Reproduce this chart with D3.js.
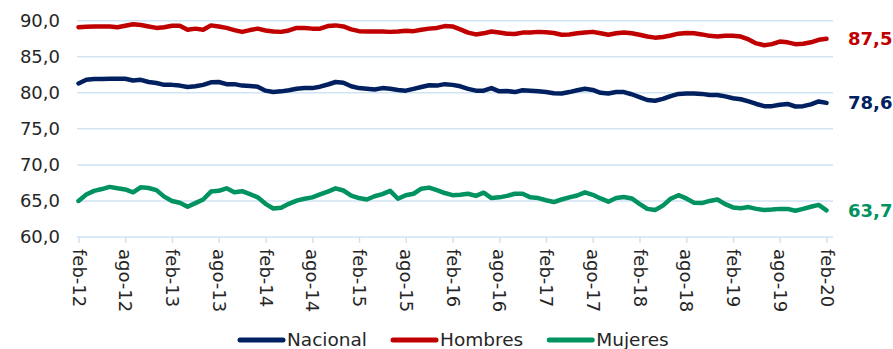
<!DOCTYPE html>
<html>
<head>
<meta charset="utf-8">
<script src="https://cdn.jsdelivr.net/npm/d3@7/dist/d3.min.js"></script>
<style>
  html, body { margin: 0; padding: 0; background: #ffffff; }
  svg { display: block; font-family: "DejaVu Sans", Verdana, sans-serif; }
</style>
</head>
<body>
<svg id="chart" width="893" height="349"></svg>
<script>
// Monthly series, feb-12 .. feb-20 (97 months)
const nacional = [
  81.3, 81.8, 81.9, 81.9, 81.95, 81.95, 81.95, 81.7, 81.8, 81.5,
  81.35, 81.1, 81.1, 81.0, 80.8, 80.9, 81.1, 81.45, 81.5, 81.2,
  81.2, 81.0, 80.95, 80.85, 80.3, 80.1, 80.2, 80.35, 80.55, 80.65,
  80.65, 80.85, 81.15, 81.5, 81.4, 80.9, 80.65, 80.55, 80.45, 80.65,
  80.55, 80.4, 80.3, 80.55, 80.8, 81.05, 81.0, 81.2, 81.1, 80.9,
  80.55, 80.3, 80.3, 80.65, 80.2, 80.25, 80.1, 80.35, 80.3, 80.2,
  80.1, 79.95, 79.9, 80.1, 80.35, 80.55, 80.4, 80.0, 79.9, 80.1,
  80.1, 79.8, 79.4, 79.0, 78.9, 79.15, 79.55, 79.85, 79.9, 79.9,
  79.85, 79.7, 79.7, 79.5, 79.25, 79.1, 78.8, 78.45, 78.15, 78.15,
  78.35, 78.45, 78.1, 78.15, 78.4, 78.8, 78.6
];
const hombres = [
  89.1, 89.15, 89.2, 89.2, 89.2, 89.1, 89.3, 89.5, 89.4, 89.2,
  89.0, 89.1, 89.3, 89.3, 88.75, 88.9, 88.75, 89.35, 89.2, 89.0,
  88.7, 88.45, 88.7, 88.9, 88.65, 88.5, 88.45, 88.65, 89.0, 89.0,
  88.9, 88.9, 89.25, 89.35, 89.2, 88.8, 88.55, 88.5, 88.5, 88.5,
  88.45, 88.5, 88.6, 88.55, 88.75, 88.9, 89.0, 89.25, 89.2, 88.8,
  88.35, 88.1, 88.25, 88.5, 88.35, 88.2, 88.15, 88.35, 88.35, 88.45,
  88.4, 88.3, 88.05, 88.1, 88.25, 88.35, 88.45, 88.25, 88.05, 88.25,
  88.35, 88.25, 88.05, 87.8, 87.65, 87.75, 87.95, 88.2, 88.3, 88.25,
  88.1, 87.9, 87.8, 87.9, 87.9, 87.8, 87.4, 86.85, 86.6, 86.75,
  87.1, 87.0, 86.75, 86.8, 87.0, 87.35, 87.5
];
const mujeres = [
  65.0, 65.9, 66.4, 66.65, 66.95, 66.75, 66.6, 66.2, 66.9, 66.8,
  66.5, 65.6, 65.0, 64.75, 64.2, 64.7, 65.2, 66.3, 66.4, 66.75,
  66.2, 66.35, 65.95, 65.5, 64.6, 63.95, 64.05, 64.6, 65.05, 65.3,
  65.5, 65.9, 66.3, 66.75, 66.45, 65.75, 65.4, 65.2, 65.65, 65.95,
  66.4, 65.3, 65.8, 66.0, 66.7, 66.85, 66.5, 66.1, 65.8, 65.85,
  66.0, 65.7, 66.15, 65.4, 65.5, 65.7, 66.0, 66.0, 65.5, 65.4,
  65.1, 64.85, 65.2, 65.5, 65.75, 66.2, 65.85, 65.35, 64.9, 65.4,
  65.55, 65.35, 64.6, 63.9, 63.75, 64.35, 65.3, 65.8, 65.35, 64.75,
  64.7, 65.0, 65.2, 64.55, 64.1, 64.0, 64.15, 63.9, 63.75, 63.8,
  63.9, 63.9, 63.65, 63.9, 64.2, 64.45, 63.7
];

// Axis labels
const tickLabels = [
  "feb-12", "ago-12", "feb-13", "ago-13", "feb-14", "ago-14", "feb-15", "ago-15",
  "feb-16", "ago-16", "feb-17", "ago-17", "feb-18", "ago-18", "feb-19", "ago-19", "feb-20"
];
const yTicks = [60, 65, 70, 75, 80, 85, 90];
const seriesNames = ["Nacional", "Hombres", "Mujeres"];

const series = [
  { name: seriesNames[0], values: nacional, color: "#002060" },
  { name: seriesNames[1], values: hombres,  color: "#C00000" },
  { name: seriesNames[2], values: mujeres,  color: "#00935F" }
];

const svg = d3.select("#chart");
const plotLeft = 77, plotRight = 833, plotTop = 20.7, plotBottom = 237;
const gridColor = "#D0E3F5";
const textColor = "#262626";

const x = d3.scaleLinear().domain([0, nacional.length - 1]).range([78.5, 826.5]);
const y = d3.scaleLinear().domain([60, 90]).range([plotBottom, plotTop]);
const fmt = v => d3.format(".1f")(v).replace(".", ",");

// Horizontal gridlines (60 acts as the axis line)
svg.append("g").selectAll("line")
  .data(yTicks).join("line")
  .attr("x1", plotLeft).attr("x2", plotRight)
  .attr("y1", d => y(d)).attr("y2", d => y(d))
  .attr("stroke", gridColor).attr("stroke-width", 1.5);

// Y axis labels
const yAxis = d3.axisLeft(y).tickValues(yTicks).tickFormat(fmt).tickSize(0).tickPadding(0);
svg.append("g")
  .attr("transform", `translate(60,0)`)
  .call(yAxis)
  .call(g => g.select(".domain").remove())
  .call(g => g.selectAll("text")
    .attr("font-size", 18).attr("fill", textColor)
    .attr("font-family", "DejaVu Sans, Verdana, sans-serif"));

// X axis: ticks every 6 months, labels rotated
const tickIdx = tickLabels.map((_, i) => i * 6);
const xAxis = d3.axisBottom(x).tickValues(tickIdx)
  .tickFormat((d, i) => tickLabels[i]).tickSize(6).tickPadding(0);
svg.append("g")
  .attr("transform", `translate(0,${plotBottom})`)
  .call(xAxis)
  .call(g => g.select(".domain").remove())
  .call(g => g.selectAll(".tick line").attr("stroke", gridColor).attr("stroke-width", 1.5))
  .call(g => g.selectAll("text")
    .attr("font-size", 18).attr("fill", textColor)
    .attr("font-family", "DejaVu Sans, Verdana, sans-serif")
    .attr("text-anchor", "start")
    .attr("transform", "translate(0,12) rotate(90)")
    .attr("x", 0).attr("y", 0).attr("dy", "0.35em"));

// Series lines
const line = d3.line().x((d, i) => x(i)).y(d => y(d)).curve(d3.curveLinear);
svg.append("g").selectAll("path")
  .data(series).join("path")
  .attr("d", d => line(d.values))
  .attr("fill", "none")
  .attr("stroke", d => d.color)
  .attr("stroke-width", 4.5)
  .attr("stroke-linejoin", "round")
  .attr("stroke-linecap", "round");

// Last-value labels
svg.append("g").selectAll("text")
  .data(series).join("text")
  .attr("x", 848)
  .attr("y", d => y(d.values[d.values.length - 1]))
  .attr("dy", "0.35em")
  .attr("font-size", 18).attr("font-weight", "bold")
  .attr("fill", d => d.color)
  .text(d => fmt(d.values[d.values.length - 1]));

// Legend
const legend = svg.append("g").attr("transform", "translate(240,340)");
let cursor = 0;
series.forEach(s => {
  const item = legend.append("g").attr("transform", `translate(${cursor},0)`);
  item.append("line").attr("x1", 0).attr("x2", 43).attr("y1", 0).attr("y2", 0)
    .attr("stroke", s.color).attr("stroke-width", 5).attr("stroke-linecap", "round");
  const t = item.append("text").attr("x", 47).attr("y", 0).attr("dy", "0.35em")
    .attr("font-size", 18.5).attr("fill", textColor).text(s.name);
  cursor += 47 + t.node().getComputedTextLength() + 26;
});
</script>
</body>
</html>
